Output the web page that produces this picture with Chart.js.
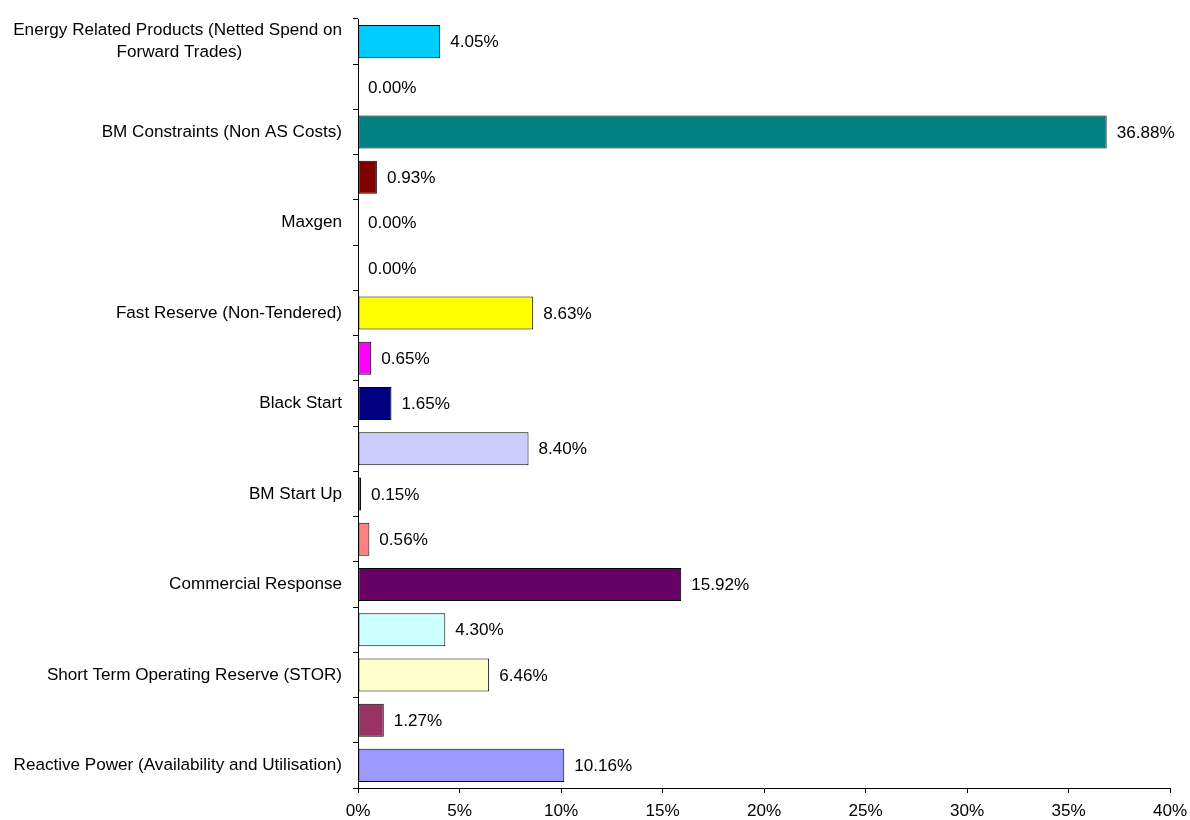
<!DOCTYPE html>
<html>
<head>
<meta charset="utf-8">
<script src="https://cdn.jsdelivr.net/npm/chart.js@4/dist/chart.umd.min.js"></script>
<style>
  html, body { margin: 0; padding: 0; background: #fff; }
  #wrap { width: 1190px; height: 820px; }
</style>
</head>
<body>
<div id="wrap"><canvas id="chart" width="1190" height="820"></canvas></div>
<script>
// categories top to bottom, only every other one carries a label in the original
const categories = [
  ['Energy Related Products (Netted Spend on', 'Forward Trades)' + ' '.repeat(21)],
  '',
  'BM Constraints (Non AS Costs)',
  '',
  'Maxgen',
  '',
  'Fast Reserve (Non-Tendered)',
  '',
  'Black Start',
  '',
  'BM Start Up',
  '',
  'Commercial Response',
  '',
  'Short Term Operating Reserve (STOR)',
  '',
  'Reactive Power (Availability and Utilisation)'
];

const shares = [4.05, 0.00, 36.88, 0.93, 0.00, 0.00, 8.63, 0.65, 1.65, 8.40, 0.15, 0.56, 15.92, 4.30, 6.46, 1.27, 10.16];

const barColors = [
  '#00CCFF', '#0000FF', '#008080', '#800000', '#800080', '#00FFFF',
  '#FFFF00', '#FF00FF', '#000080', '#CCCCFF', '#0066CC', '#FF8080',
  '#660066', '#CCFFFF', '#FFFFCC', '#993366', '#9999FF'
];

const xTicks = [0, 5, 10, 15, 20, 25, 30, 35, 40];

const FONT = '"Liberation Sans", Arial, sans-serif';
const FSIZE = 17.1;

// value labels to the right of each bar
const valueLabels = {
  id: 'valueLabels',
  afterDatasetsDraw(chart) {
    const ctx = chart.ctx;
    const meta = chart.getDatasetMeta(0);
    ctx.save();
    ctx.font = FSIZE + 'px ' + FONT;
    ctx.fillStyle = '#000';
    ctx.textAlign = 'left';
    ctx.textBaseline = 'middle';
    meta.data.forEach((bar, i) => {
      ctx.fillText(shares[i].toFixed(2) + '%', bar.x + 10, bar.y + 1);
    });
    ctx.restore();
  }
};

new Chart(document.getElementById('chart'), {
  type: 'bar',
  data: {
    labels: categories,
    datasets: [{
      data: shares,
      backgroundColor: barColors,
      borderColor: '#000',
      borderWidth: 1,
      borderSkipped: false,
      barPercentage: 0.73,
      categoryPercentage: 1
    }]
  },
  options: {
    indexAxis: 'y',
    responsive: false,
    animation: false,
    devicePixelRatio: 1,
    layout: { padding: { top: 19, right: 20, left: 0, bottom: 0 } },
    plugins: {
      legend: { display: false },
      tooltip: { enabled: false }
    },
    scales: {
      x: {
        min: 0,
        max: 40,
        afterBuildTicks: (scale) => { scale.ticks = xTicks.map(v => ({ value: v })); },
        afterFit: (scale) => {
          scale.height = 32;
          scale.paddingLeft = 0;
          scale.paddingRight = 0;
        },
        border: { color: '#000', width: 1 },
        grid: { drawOnChartArea: false, color: '#000', tickLength: 5 },
        ticks: {
          color: '#000',
          font: { family: FONT, size: FSIZE },
          padding: 8,
          maxRotation: 0,
          callback: (v) => v + '%'
        }
      },
      y: {
        afterFit: (scale) => {
          scale.width = 358;
          scale.paddingTop = 0;
          scale.paddingBottom = 0;
        },
        border: { color: '#000', width: 1 },
        grid: { drawOnChartArea: false, color: '#000', tickLength: 5, offset: true },
        ticks: {
          color: '#000',
          autoSkip: false,
          font: { family: FONT, size: FSIZE, lineHeight: 1.3 },
          padding: 11
        }
      }
    }
  },
  plugins: [valueLabels]
});
</script>
</body>
</html>
